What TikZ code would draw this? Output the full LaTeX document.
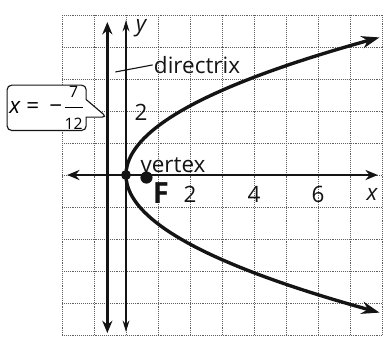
\documentclass[tikz,border=0pt]{standalone}
\usepackage{amsmath}
\usepackage{fontspec}
\setmainfont{Open Sans}
\usepackage{tikz}
\usetikzlibrary{arrows.meta, shapes.callouts}
\definecolor{mydark}{RGB}{20,20,20}
\definecolor{gridgray}{RGB}{95,95,95}
\newcommand{\fracdigit}[1]{\text{\fontsize{14}{15}\selectfont #1}}
\tikzset{
  lbl/.style={font=\fontsize{20}{24}\selectfont, inner sep=1pt, color=mydark},
  gridline/.style={densely dotted, line width=0.7pt, color=gridgray},
  xaxis/.style={line width=1.8pt, color=mydark, {Stealth[length=11pt,width=9pt]}-{Stealth[length=11pt,width=9pt]}},
  yaxis/.style={line width=1.4pt, color=mydark, {Stealth[length=10pt,width=6pt]}-{Stealth[length=10pt,width=6pt]}},
  directrix/.style={line width=2.6pt, color=mydark, {Stealth[length=11pt,width=9pt]}-{Stealth[length=11pt,width=9pt]}},
  curve/.style={line width=3pt, color=mydark, {Stealth[length=16pt,width=11pt]}-{Stealth[length=16pt,width=11pt]}},
  leader/.style={line width=1pt, color=mydark},
  eqbox/.style={rectangle callout, draw=mydark, fill=white, line width=1pt,
    rounded corners=4pt, minimum width=2.47cm, minimum height=1.25cm, inner sep=1pt,
    callout pointer width=0.55cm, font=\fontsize{20}{24}\selectfont},
  vdot/.style={circle, fill=mydark, inner sep=0pt, minimum size=0.31cm},
  fdot/.style={circle, fill=mydark, inner sep=0pt, minimum size=0.38cm}
}
\begin{document}
\begin{tikzpicture}
    \useasboundingbox (-3.9375,-5.4375) rectangle (8.0625,5.469);

    % Grid
    \draw[gridline] (-2,-5) grid (8,5);

    % Axes
    \draw[xaxis] (-1.84,0) -- (7.87,0);
    \draw[yaxis] (0,-4.9) -- (0,4.84);
    \node[lbl] (ylabel) at (0.47,4.6) {\itshape y};
    \node[lbl] (xlabel) at (7.69,-0.62) {\itshape x};
    \foreach \t in {2,4,6}
      \node[lbl] (tick\t) at (\t,-0.61) {\t};
    \node[lbl] (ytick) at (0.47,1.95) {2};

    % Directrix
    \draw[directrix] (-7/12,-4.94) -- (-7/12,4.78);
    \node[lbl] (dirlabel) at (2.22,3.44) {directrix};
    \coordinate (dirtick) at (-0.33,3.22);
    \draw[leader] (dirtick) -- (dirlabel.west);

    % Equation callout
    \coordinate (dirpoint) at (-0.6,1.81);
    \node[eqbox, callout absolute pointer={(dirpoint)}] (eq) at (-2.48,2.1)
      {\textit{x}\hspace{5pt}=\hspace{9pt}−\hspace{1pt}$\dfrac{\fracdigit{7}}{\fracdigit{12}}$};

    % Parabola
    \draw[curve] plot[domain=-4.3:4.3, samples=80] ({3*\x*\x/7}, \x);

    % Vertex and focus
    \node[vdot] (vertex) at (0,0) {};
    \node[lbl, anchor=base] (vertexlabel) at (1.47,0.09) {vertex};
    \node[fdot] (focus) at (0.64,-0.08) {};
    \node[lbl, font=\fontsize{26}{30}\selectfont\bfseries] (flabel) at (1.09,-0.56) {F};
\end{tikzpicture}
\end{document}
